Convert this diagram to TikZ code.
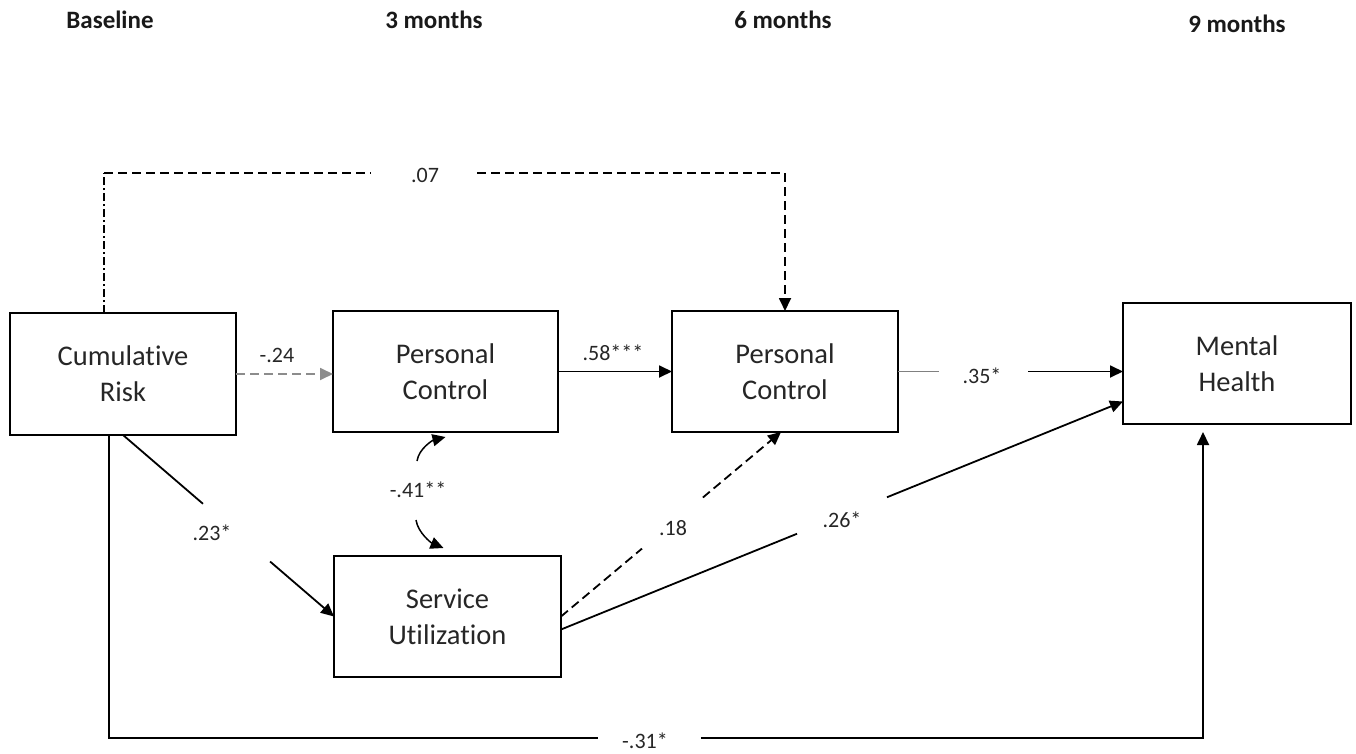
\documentclass[tikz,border=0pt]{standalone}
\usepackage{fontspec}
\setmainfont{Carlito}[Ligatures=NoCommon]
\usetikzlibrary{arrows.meta,calc}

\tikzset{
  box/.style={draw, line width=2.4pt, inner sep=0pt, outer sep=0pt,
    align=center, text=black!85, font=\fontsize{28.5}{36}\selectfont},
  lbl/.style={inner sep=0pt, text=black!85, font=\fontsize{22}{26}\selectfont},
  hdr/.style={inner sep=0pt, text=black!90, font=\bfseries\fontsize{25}{30}\selectfont},
  con/.style={line width=1.8pt},
  tip/.style={-{Triangle[length=13pt,width=12pt]}},
  dsh/.style={con, dash pattern=on 9pt off 5pt},
  dshdot/.style={con, dash pattern=on 8pt off 3pt on 2pt off 3pt}
}

\begin{document}
\begin{tikzpicture}[x=1pt,y=-1pt]
\useasboundingbox (0,0) rectangle (1356,754);

% time points
\node[hdr] (h0) at (110,20) {Baseline};
\node[hdr] (h3) at (434,20) {3 months};
\node[hdr] (h6) at (783,20) {6 months};
\node[hdr] (h9) at (1237,24) {9 months};

% variables
\node[box, minimum width=226pt, minimum height=122pt] (cr)  at (123,374)    {Cumulative\\Risk};
\node[box, minimum width=225pt, minimum height=121pt] (pc1) at (445.5,371.5) {Personal\\Control};
\node[box, minimum width=226pt, minimum height=121pt] (pc2) at (785,371.5)   {Personal\\Control};
\node[box, minimum width=228pt, minimum height=121pt] (mh)  at (1237,363.5)  {Mental\\Health};
\node[box, minimum width=227pt, minimum height=121pt] (su)  at (447.5,616.5) {Service\\Utilization};

% Cumulative Risk -> Personal Control (6 months), over the top
\coordinate (t1) at (104,173);
\coordinate (t2) at (785,173);
\draw[dshdot] (cr.north -| t1) -- (t1);
\draw[dsh] (t1) -- ($(t1)!0.391!(t2)$);
\draw[dsh, tip] ($(t1)!0.548!(t2)$) -- (t2) -- (pc2.north);
\node[lbl] (l07) at (425,175) {.07};

% Cumulative Risk -> Personal Control (3 months)
\draw[dsh, draw=black!45, tip] (cr.east) -- (cr.east -| pc1.west);
\node[lbl] (l24) at (277,355) {-.24};

% Personal Control -> Personal Control
\draw[con, tip] (pc1.east) -- (pc2.west);
\node[lbl] (l58) at (613,353) {.58***};

% Personal Control (6 months) -> Mental Health
\coordinate (e35) at (pc2.east -| mh.west);
\draw[con, draw=black!50] (pc2.east) -- ($(pc2.east)!0.182!(e35)$);
\draw[con, tip] ($(pc2.east)!0.578!(e35)$) -- (e35);
\node[lbl] (l35) at (982,376) {.35*};

% Service Utilization -> Mental Health
\coordinate (s26) at ($(su.east)+(0,13)$);
\coordinate (e26) at ($(mh.west)+(0,38)$);
\draw[con] (s26) -- ($(s26)!0.42!(e26)$);
\draw[con, tip] ($(s26)!0.58!(e26)$) -- (e26);
\node[lbl] (l26) at (842,520) {.26*};

% Service Utilization -> Personal Control (6 months)
\coordinate (e18) at ($(pc2.south)+(-4,0)$);
\draw[dsh] (su.east) -- ($(su.east)!0.368!(e18)$);
\draw[dsh, tip] ($(su.east)!0.645!(e18)$) -- (e18);
\node[lbl] (l18) at (673,528) {.18};

% Cumulative Risk -> Service Utilization
\draw[con] (cr.south) -- ($(cr.south)!0.379!(su.west)$);
\draw[con, tip] ($(cr.south)!0.697!(su.west)$) -- (su.west);
\node[lbl] (l23) at (212,533) {.23*};

% covariance between Personal Control and Service Utilization
\node[lbl] (l41) at (418,490) {-.41**};
\coordinate (c41a) at (417,461);
\coordinate (c41b) at (416,520);
\draw[con, line width=1.5pt, tip] (c41a) .. controls +(2,-13) and +(-12,3) .. ($(pc1.south)+(0,5)$);
\draw[con, line width=1.5pt, tip] (c41b) .. controls +(2,13) and +(-12,-5) .. ($(su.north)+(-4,-8)$);

% Cumulative Risk -> Mental Health, along the bottom
\coordinate (b1) at (109,738);
\coordinate (b2) at (1203,738);
\draw[con] (cr.south -| b1) -- (b1) -- ($(b1)!0.447!(b2)$);
\draw[con, tip] ($(b1)!0.541!(b2)$) -- (b2) -- ($(mh.south -| b2)+(0,8)$);
\node[lbl] (l31) at (645,741) {-.31*};
\end{tikzpicture}
\end{document}
